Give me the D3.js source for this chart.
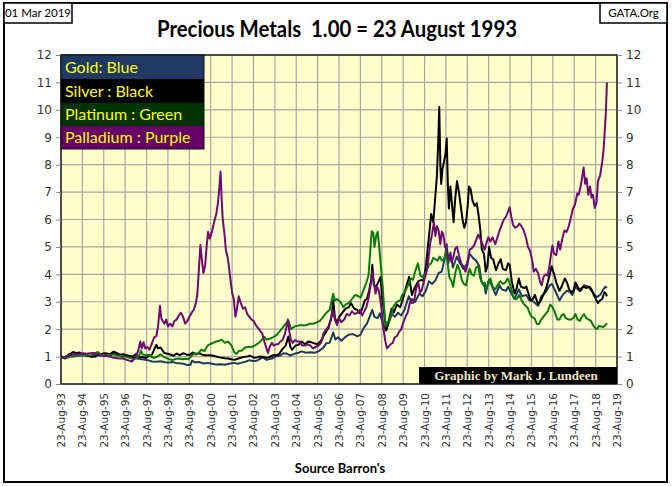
<!DOCTYPE html>
<html>
<head>
<meta charset="utf-8">
<script src="https://cdn.jsdelivr.net/npm/d3@7"></script>
<style>
  body { margin: 0; background: #fff; }
  svg { display: block; }
</style>
</head>
<body>
<div id="chart"></div>
<script>
// values = price / price on 23 Aug 1993, dates as decimal years
const gold = [[1993.64,1.00],[1993.8,0.98],[1993.95,1.03],[1994.1,1.02],[1994.3,1.01],[1994.5,1.04],[1994.7,1.05],[1994.9,1.02],[1995.1,1.01],[1995.3,1.05],[1995.5,1.04],[1995.7,1.03],[1995.9,1.04],[1996.08,1.11],[1996.3,1.06],[1996.5,1.03],[1996.7,1.04],[1996.9,0.99],[1997.1,0.94],[1997.3,0.92],[1997.5,0.89],[1997.7,0.87],[1997.9,0.82],[1998.1,0.81],[1998.3,0.83],[1998.5,0.79],[1998.7,0.78],[1998.85,0.80],[1999.0,0.77],[1999.2,0.76],[1999.4,0.73],[1999.55,0.69],[1999.7,0.70],[1999.77,0.85],[1999.9,0.79],[2000.1,0.80],[2000.3,0.75],[2000.5,0.77],[2000.7,0.74],[2000.9,0.71],[2001.1,0.72],[2001.3,0.70],[2001.5,0.74],[2001.7,0.77],[2001.9,0.74],[2002.1,0.78],[2002.3,0.82],[2002.45,0.87],[2002.6,0.84],[2002.8,0.85],[2002.95,0.92],[2003.1,0.97],[2003.25,0.88],[2003.5,0.93],[2003.7,1.01],[2003.9,1.04],[2004.05,1.12],[2004.2,1.11],[2004.35,1.04],[2004.55,1.10],[2004.75,1.14],[2004.9,1.19],[2005.1,1.14],[2005.3,1.16],[2005.5,1.14],[2005.7,1.20],[2005.9,1.32],[2006.05,1.49],[2006.2,1.50],[2006.37,1.88],[2006.47,1.62],[2006.6,1.70],[2006.75,1.58],[2006.95,1.72],[2007.1,1.80],[2007.3,1.82],[2007.5,1.74],[2007.65,1.80],[2007.8,2.05],[2007.95,2.20],[2008.1,2.50],[2008.2,2.70],[2008.3,2.45],[2008.45,2.40],[2008.55,2.58],[2008.7,2.18],[2008.82,1.98],[2008.95,2.20],[2009.1,2.55],[2009.25,2.45],[2009.4,2.60],[2009.55,2.50],[2009.7,2.70],[2009.9,3.20],[2010.05,2.95],[2010.2,3.00],[2010.4,3.30],[2010.55,3.20],[2010.7,3.40],[2010.85,3.75],[2011.0,3.65],[2011.15,3.78],[2011.3,4.05],[2011.45,4.10],[2011.6,4.65],[2011.68,5.10],[2011.75,4.40],[2011.85,4.80],[2011.97,4.25],[2012.15,4.65],[2012.3,4.40],[2012.45,4.20],[2012.6,4.35],[2012.75,4.75],[2012.9,4.60],[2013.05,4.50],[2013.2,4.30],[2013.3,3.75],[2013.45,3.55],[2013.5,3.30],[2013.65,3.80],[2013.8,3.55],[2013.97,3.25],[2014.15,3.60],[2014.25,3.45],[2014.45,3.40],[2014.55,3.55],[2014.7,3.30],[2014.85,3.10],[2015.05,3.45],[2015.2,3.20],[2015.4,3.25],[2015.55,3.05],[2015.7,3.03],[2015.95,2.85],[2016.1,3.20],[2016.3,3.35],[2016.5,3.60],[2016.6,3.65],[2016.75,3.40],[2016.95,3.05],[2017.1,3.25],[2017.3,3.40],[2017.45,3.35],[2017.55,3.25],[2017.7,3.55],[2017.85,3.42],[2017.95,3.40],[2018.1,3.60],[2018.3,3.55],[2018.45,3.40],[2018.6,3.25],[2018.7,3.17],[2018.85,3.25],[2019.0,3.45],[2019.1,3.55],[2019.17,3.50]];

const silver = [[1993.64,1.00],[1993.75,0.95],[1993.85,0.93],[1994.0,1.08],[1994.1,1.10],[1994.2,1.17],[1994.35,1.12],[1994.5,1.15],[1994.65,1.08],[1994.8,1.05],[1994.95,1.02],[1995.1,0.99],[1995.25,1.00],[1995.35,1.15],[1995.5,1.08],[1995.65,1.12],[1995.8,1.11],[1995.95,1.09],[1996.1,1.18],[1996.25,1.13],[1996.4,1.07],[1996.55,1.09],[1996.7,1.05],[1996.85,1.02],[1997.0,1.00],[1997.15,1.09],[1997.3,0.98],[1997.45,0.99],[1997.6,0.95],[1997.75,1.02],[1997.9,1.08],[1998.0,1.26],[1998.1,1.43],[1998.18,1.30],[1998.3,1.33],[1998.45,1.15],[1998.6,1.10],[1998.75,1.08],[1998.9,1.03],[1999.05,1.11],[1999.2,1.05],[1999.35,1.12],[1999.5,1.08],[1999.65,1.06],[1999.8,1.15],[1999.95,1.08],[2000.1,1.12],[2000.25,1.07],[2000.4,1.05],[2000.55,1.05],[2000.7,1.04],[2000.85,1.01],[2001.0,0.98],[2001.15,0.96],[2001.3,0.94],[2001.45,0.93],[2001.6,0.90],[2001.75,0.88],[2001.9,0.92],[2002.05,0.96],[2002.2,0.99],[2002.35,1.00],[2002.5,1.03],[2002.65,0.96],[2002.8,0.97],[2002.95,1.00],[2003.1,0.99],[2003.25,0.96],[2003.4,0.98],[2003.55,1.05],[2003.7,1.05],[2003.85,1.10],[2004.0,1.28],[2004.15,1.40],[2004.27,1.73],[2004.37,1.35],[2004.45,1.25],[2004.6,1.40],[2004.75,1.43],[2004.9,1.55],[2005.05,1.45],[2005.2,1.55],[2005.35,1.52],[2005.5,1.48],[2005.65,1.45],[2005.8,1.58],[2005.95,1.80],[2006.05,1.92],[2006.15,2.05],[2006.3,2.50],[2006.37,3.05],[2006.45,2.40],[2006.55,2.25],[2006.65,2.45],[2006.8,2.60],[2006.95,2.75],[2007.1,2.80],[2007.2,2.95],[2007.35,2.75],[2007.5,2.70],[2007.6,2.58],[2007.7,2.70],[2007.85,3.05],[2007.95,3.10],[2008.05,3.40],[2008.15,3.80],[2008.2,4.35],[2008.27,3.60],[2008.38,3.55],[2008.5,3.75],[2008.58,3.90],[2008.65,3.20],[2008.75,2.60],[2008.85,1.95],[2008.95,2.25],[2009.1,2.75],[2009.2,2.60],[2009.35,2.90],[2009.5,2.80],[2009.65,3.15],[2009.8,3.60],[2009.92,3.90],[2010.05,3.25],[2010.2,3.55],[2010.35,3.75],[2010.5,3.80],[2010.6,3.75],[2010.72,4.40],[2010.85,5.40],[2010.95,6.20],[2011.05,5.90],[2011.15,6.90],[2011.22,7.60],[2011.28,8.80],[2011.33,10.10],[2011.38,8.00],[2011.42,7.30],[2011.48,7.85],[2011.55,8.10],[2011.62,8.40],[2011.68,8.95],[2011.73,7.30],[2011.78,6.40],[2011.85,7.20],[2011.92,6.60],[2012.0,5.90],[2012.08,6.80],[2012.16,7.40],[2012.25,7.00],[2012.35,6.40],[2012.42,6.00],[2012.5,5.70],[2012.58,5.90],[2012.66,6.50],[2012.72,7.20],[2012.8,7.10],[2012.88,6.70],[2012.98,6.50],[2013.08,6.60],[2013.16,6.20],[2013.25,5.60],[2013.32,4.90],[2013.42,4.75],[2013.5,4.10],[2013.58,4.30],[2013.66,5.00],[2013.75,4.60],[2013.85,4.55],[2013.98,4.15],[2014.1,4.40],[2014.2,4.55],[2014.3,4.20],[2014.45,4.15],[2014.55,4.40],[2014.62,4.35],[2014.72,3.75],[2014.85,3.30],[2014.95,3.50],[2015.05,3.85],[2015.15,3.55],[2015.3,3.50],[2015.4,3.55],[2015.5,3.30],[2015.6,3.05],[2015.7,3.10],[2015.8,3.25],[2015.95,2.90],[2016.05,3.00],[2016.2,3.25],[2016.35,3.55],[2016.5,4.00],[2016.58,4.30],[2016.7,4.00],[2016.8,3.70],[2016.95,3.40],[2017.05,3.55],[2017.2,3.85],[2017.3,3.70],[2017.4,3.45],[2017.52,3.35],[2017.6,3.40],[2017.7,3.70],[2017.8,3.55],[2017.9,3.40],[2017.98,3.50],[2018.08,3.55],[2018.2,3.50],[2018.35,3.55],[2018.45,3.45],[2018.55,3.25],[2018.65,3.10],[2018.75,2.95],[2018.85,3.05],[2018.95,3.10],[2019.05,3.35],[2019.12,3.30],[2019.17,3.20]];

const platinum = [[1993.64,1.00],[1993.75,0.97],[1993.9,0.95],[1994.05,0.99],[1994.2,1.00],[1994.35,1.02],[1994.5,1.04],[1994.65,1.05],[1994.8,1.07],[1994.95,1.04],[1995.1,1.05],[1995.25,1.13],[1995.35,1.16],[1995.5,1.08],[1995.65,1.07],[1995.8,1.05],[1995.95,1.05],[1996.1,1.08],[1996.25,1.04],[1996.4,1.03],[1996.55,1.00],[1996.7,0.98],[1996.85,0.96],[1997.0,0.92],[1997.15,0.95],[1997.3,1.05],[1997.38,1.22],[1997.45,1.08],[1997.6,1.05],[1997.75,1.07],[1997.9,0.98],[1998.0,0.95],[1998.15,1.00],[1998.3,1.08],[1998.4,1.02],[1998.55,0.95],[1998.7,0.90],[1998.85,0.87],[1999.0,0.91],[1999.15,0.93],[1999.3,0.90],[1999.45,0.92],[1999.6,0.90],[1999.75,1.03],[1999.9,1.12],[2000.05,1.10],[2000.2,1.25],[2000.35,1.20],[2000.5,1.40],[2000.6,1.45],[2000.75,1.50],[2000.9,1.55],[2001.05,1.58],[2001.15,1.62],[2001.3,1.50],[2001.45,1.55],[2001.6,1.42],[2001.75,1.15],[2001.85,1.10],[2001.95,1.20],[2002.1,1.22],[2002.25,1.33],[2002.4,1.35],[2002.55,1.35],[2002.7,1.40],[2002.85,1.48],[2003.0,1.58],[2003.15,1.72],[2003.25,1.62],[2003.4,1.65],[2003.55,1.70],[2003.7,1.77],[2003.85,1.90],[2004.0,2.05],[2004.15,2.20],[2004.28,2.30],[2004.4,2.00],[2004.55,2.10],[2004.7,2.12],[2004.85,2.15],[2005.0,2.13],[2005.15,2.16],[2005.3,2.20],[2005.45,2.20],[2005.6,2.25],[2005.75,2.30],[2005.9,2.45],[2006.05,2.60],[2006.2,2.70],[2006.37,3.29],[2006.45,3.05],[2006.55,3.10],[2006.7,3.00],[2006.85,2.80],[2006.95,2.90],[2007.1,2.95],[2007.25,3.10],[2007.4,3.25],[2007.55,3.20],[2007.65,3.15],[2007.8,3.45],[2007.92,3.70],[2008.02,3.95],[2008.1,4.80],[2008.17,5.57],[2008.25,5.50],[2008.3,5.00],[2008.38,5.40],[2008.45,5.55],[2008.52,5.00],[2008.6,4.30],[2008.68,3.60],[2008.75,2.80],[2008.82,2.10],[2008.9,2.25],[2009.0,2.30],[2009.1,2.60],[2009.2,2.85],[2009.35,3.00],[2009.5,3.05],[2009.6,3.25],[2009.75,3.40],[2009.9,3.65],[2010.0,3.85],[2010.1,3.80],[2010.2,4.10],[2010.33,4.40],[2010.45,3.95],[2010.55,3.90],[2010.7,4.05],[2010.85,4.35],[2010.95,4.40],[2011.05,4.60],[2011.15,4.55],[2011.25,4.50],[2011.35,4.65],[2011.45,4.50],[2011.55,4.55],[2011.65,4.80],[2011.72,4.40],[2011.8,3.90],[2011.9,3.75],[2011.98,3.55],[2012.08,4.05],[2012.18,4.35],[2012.28,4.15],[2012.38,3.80],[2012.48,3.65],[2012.58,3.60],[2012.68,4.00],[2012.75,4.20],[2012.85,4.00],[2012.95,3.95],[2013.05,4.25],[2013.15,4.30],[2013.25,3.85],[2013.35,3.65],[2013.45,3.70],[2013.52,3.45],[2013.62,3.70],[2013.72,3.85],[2013.82,3.55],[2013.95,3.45],[2014.05,3.60],[2014.18,3.75],[2014.3,3.65],[2014.42,3.70],[2014.52,3.85],[2014.62,3.70],[2014.75,3.30],[2014.85,3.10],[2014.95,3.10],[2015.08,3.25],[2015.18,3.05],[2015.3,2.90],[2015.45,2.80],[2015.55,2.60],[2015.65,2.45],[2015.78,2.40],[2015.9,2.18],[2016.0,2.20],[2016.1,2.35],[2016.25,2.50],[2016.4,2.65],[2016.52,2.90],[2016.62,2.80],[2016.72,2.65],[2016.85,2.35],[2016.95,2.35],[2017.05,2.50],[2017.15,2.55],[2017.25,2.40],[2017.38,2.35],[2017.5,2.35],[2017.6,2.42],[2017.7,2.55],[2017.8,2.35],[2017.9,2.30],[2018.0,2.45],[2018.1,2.55],[2018.2,2.40],[2018.32,2.35],[2018.42,2.30],[2018.52,2.15],[2018.62,2.05],[2018.7,2.00],[2018.8,2.12],[2018.9,2.10],[2019.0,2.08],[2019.1,2.15],[2019.17,2.22]];

const palladium = [[1993.64,1.00],[1993.8,0.98],[1993.95,1.02],[1994.1,1.05],[1994.25,1.10],[1994.4,1.08],[1994.55,1.10],[1994.7,1.12],[1994.85,1.10],[1995.0,1.12],[1995.15,1.13],[1995.3,1.10],[1995.45,1.05],[1995.6,1.05],[1995.75,1.03],[1995.9,1.00],[1996.05,0.97],[1996.2,0.95],[1996.35,0.93],[1996.5,0.94],[1996.65,0.90],[1996.8,0.86],[1996.95,0.82],[1997.05,0.90],[1997.15,1.05],[1997.25,1.20],[1997.35,1.55],[1997.42,1.30],[1997.5,1.52],[1997.58,1.30],[1997.68,1.35],[1997.78,1.25],[1997.9,1.50],[1998.0,1.70],[1998.1,1.75],[1998.18,2.10],[1998.27,2.85],[1998.33,2.40],[1998.4,2.30],[1998.48,2.20],[1998.56,2.35],[1998.65,2.10],[1998.75,2.20],[1998.85,2.10],[1998.95,2.30],[1999.05,2.35],[1999.15,2.50],[1999.25,2.60],[1999.35,2.45],[1999.45,2.20],[1999.55,2.30],[1999.65,2.45],[1999.75,2.60],[1999.85,2.70],[1999.95,2.95],[2000.02,3.30],[2000.1,4.30],[2000.16,5.07],[2000.22,4.60],[2000.3,4.05],[2000.38,4.30],[2000.45,5.00],[2000.52,5.55],[2000.6,5.30],[2000.7,5.55],[2000.8,5.90],[2000.9,6.20],[2000.98,6.60],[2001.05,7.20],[2001.1,7.75],[2001.15,6.80],[2001.2,6.05],[2001.28,5.50],[2001.35,4.90],[2001.45,4.55],[2001.55,3.90],[2001.65,3.30],[2001.72,3.10],[2001.8,2.45],[2001.88,2.80],[2001.95,3.20],[2002.05,2.95],[2002.15,2.75],[2002.25,2.80],[2002.35,2.55],[2002.45,2.45],[2002.55,2.35],[2002.65,2.30],[2002.75,2.15],[2002.85,2.05],[2002.95,1.95],[2003.05,1.85],[2003.15,1.55],[2003.25,1.30],[2003.32,1.13],[2003.4,1.35],[2003.5,1.50],[2003.6,1.40],[2003.7,1.45],[2003.8,1.45],[2003.9,1.55],[2004.0,1.60],[2004.1,1.80],[2004.18,2.05],[2004.25,2.35],[2004.32,1.90],[2004.4,1.60],[2004.48,1.50],[2004.58,1.60],[2004.68,1.55],[2004.8,1.55],[2004.92,1.40],[2005.05,1.40],[2005.18,1.45],[2005.3,1.40],[2005.42,1.30],[2005.55,1.35],[2005.68,1.40],[2005.8,1.50],[2005.92,1.85],[2006.05,2.00],[2006.15,2.10],[2006.25,2.30],[2006.35,2.70],[2006.45,2.35],[2006.55,2.15],[2006.65,2.40],[2006.75,2.25],[2006.88,2.35],[2007.0,2.55],[2007.12,2.50],[2007.25,2.65],[2007.38,2.55],[2007.5,2.60],[2007.62,2.70],[2007.72,2.50],[2007.82,2.65],[2007.92,2.80],[2008.0,3.05],[2008.08,3.40],[2008.15,3.80],[2008.2,4.10],[2008.27,3.70],[2008.35,3.30],[2008.42,3.55],[2008.5,3.40],[2008.57,3.10],[2008.65,2.60],[2008.72,2.00],[2008.8,1.60],[2008.88,1.30],[2008.95,1.35],[2009.05,1.45],[2009.15,1.50],[2009.25,1.70],[2009.35,1.75],[2009.45,1.90],[2009.55,2.00],[2009.65,2.25],[2009.75,2.45],[2009.85,2.60],[2009.95,2.95],[2010.05,3.10],[2010.15,3.00],[2010.25,3.50],[2010.35,3.70],[2010.42,3.35],[2010.5,3.40],[2010.6,3.70],[2010.7,4.00],[2010.8,4.40],[2010.9,5.10],[2011.0,5.50],[2011.08,5.90],[2011.15,5.40],[2011.22,5.75],[2011.3,5.60],[2011.38,5.10],[2011.45,5.55],[2011.52,5.45],[2011.6,5.00],[2011.68,4.90],[2011.75,4.55],[2011.82,4.70],[2011.9,4.45],[2011.98,4.60],[2012.08,4.95],[2012.16,5.00],[2012.25,4.70],[2012.35,4.40],[2012.45,4.30],[2012.55,4.10],[2012.65,4.35],[2012.75,4.90],[2012.85,4.95],[2012.95,5.05],[2013.05,5.25],[2013.15,5.45],[2013.25,5.30],[2013.35,5.10],[2013.45,4.90],[2013.52,5.10],[2013.62,5.35],[2013.72,5.20],[2013.82,5.35],[2013.95,5.10],[2014.05,5.35],[2014.15,5.60],[2014.25,5.80],[2014.35,6.00],[2014.45,6.10],[2014.55,6.30],[2014.62,6.45],[2014.7,6.10],[2014.78,5.80],[2014.88,5.70],[2014.98,5.75],[2015.08,5.85],[2015.18,5.75],[2015.28,5.60],[2015.38,5.35],[2015.48,5.00],[2015.58,4.85],[2015.68,4.50],[2015.75,4.10],[2015.85,4.20],[2015.95,4.05],[2016.05,3.70],[2016.12,3.60],[2016.2,3.90],[2016.3,4.00],[2016.4,3.95],[2016.48,4.30],[2016.55,4.70],[2016.62,5.05],[2016.7,4.75],[2016.8,4.70],[2016.9,5.20],[2016.98,4.90],[2017.08,5.30],[2017.18,5.60],[2017.28,5.55],[2017.38,5.75],[2017.48,6.05],[2017.58,6.40],[2017.68,6.55],[2017.78,6.95],[2017.85,6.90],[2017.95,7.25],[2018.03,7.65],[2018.08,7.90],[2018.15,7.30],[2018.22,7.50],[2018.3,6.90],[2018.38,7.20],[2018.45,6.80],[2018.52,6.90],[2018.6,6.42],[2018.68,6.60],[2018.75,7.40],[2018.85,7.60],[2018.95,8.10],[2019.02,8.60],[2019.08,9.40],[2019.12,9.90],[2019.17,11.00]];

const series = [
  { name: 'Gold: Blue', values: gold, color: '#1f3864', box: '#1f3864' },
  { name: 'Silver : Black', values: silver, color: '#000000', box: '#000000' },
  { name: 'Platinum : Green', values: platinum, color: '#0b7a0b', box: '#003300' },
  { name: 'Palladium : Purple', values: palladium, color: '#6e0a72', box: '#660066' },
];

const yTicks = d3.range(0, 13);
const xTickDates = d3.range(1993, 2020).map(y => new Date(y, 7, 23));

const width = 672, height = 486;
const plot = { left: 61, right: 617, top: 55, bottom: 384 };

// decimal year -> Date
function toDate(y) {
  const yr = Math.floor(y);
  const start = new Date(yr, 0, 1), end = new Date(yr + 1, 0, 1);
  return new Date(+start + (y - yr) * (end - start));
}

const svg = d3.select('#chart').append('svg')
  .attr('width', width).attr('height', height);

const xScale = d3.scaleTime()
  .domain([xTickDates[0], xTickDates[xTickDates.length - 1]])
  .range([plot.left, plot.right]);
const yScale = d3.scaleLinear().domain([0, 12]).range([plot.bottom, plot.top]);

// outer frame
svg.append('rect').attr('x', 4).attr('y', 3).attr('width', 663).attr('height', 479)
  .attr('fill', '#fff').attr('stroke', '#000').attr('stroke-width', 2);

// plot background
svg.append('rect')
  .attr('x', plot.left).attr('y', plot.top)
  .attr('width', plot.right - plot.left).attr('height', plot.bottom - plot.top)
  .attr('fill', '#ffffcc');

// grid
svg.append('g').selectAll('line').data(yTicks.slice(1, -1)).join('line')
  .attr('x1', plot.left).attr('x2', plot.right)
  .attr('y1', d => yScale(d)).attr('y2', d => yScale(d))
  .attr('stroke', '#a6a6a0').attr('stroke-width', 1.2);
svg.append('g').selectAll('line').data(xTickDates.slice(1, -1)).join('line')
  .attr('x1', d => xScale(d)).attr('x2', d => xScale(d))
  .attr('y1', plot.top).attr('y2', plot.bottom)
  .attr('stroke', '#a6a6a0').attr('stroke-width', 1.2);

// lines
svg.append('clipPath').attr('id', 'clip').append('rect')
  .attr('x', plot.left).attr('y', plot.top)
  .attr('width', plot.right - plot.left).attr('height', plot.bottom - plot.top);

const line = d3.line().x(d => xScale(toDate(d[0]))).y(d => yScale(d[1]));
svg.append('g').attr('clip-path', 'url(#clip)')
  .selectAll('path').data(series).join('path')
  .attr('d', d => line(d.values))
  .attr('fill', 'none')
  .attr('stroke', d => d.color)
  .attr('stroke-width', 2)
  .attr('stroke-linejoin', 'round');

// plot border
svg.append('rect')
  .attr('x', plot.left).attr('y', plot.top)
  .attr('width', plot.right - plot.left).attr('height', plot.bottom - plot.top)
  .attr('fill', 'none').attr('stroke', '#111').attr('stroke-width', 1.5);

// y axes
const yLeft = d3.axisLeft(yScale).tickValues(yTicks).tickSize(5).tickPadding(4);
const yRight = d3.axisRight(yScale).tickValues(yTicks).tickSize(5).tickPadding(4);
function styleAxis(g) {
  g.select('.domain').remove();
  g.selectAll('.tick line').attr('stroke', '#888');
  g.selectAll('.tick text').attr('fill', '#333')
    .style('font-family', '"DejaVu Sans", Verdana, sans-serif').style('font-size', '12px');
}
svg.append('g').attr('transform', `translate(${plot.left},0)`).call(yLeft).call(styleAxis);
svg.append('g').attr('transform', `translate(${plot.right},0)`).call(yRight).call(styleAxis);

// x axis labels
const fmt = d3.timeFormat('%d-%b-%y');
svg.append('g').selectAll('text').data(xTickDates).join('text')
  .attr('transform', d => `translate(${xScale(d) + 4},393) rotate(-90)`)
  .attr('text-anchor', 'end')
  .attr('fill', '#333')
  .style('font-family', '"DejaVu Sans", Verdana, sans-serif')
  .style('font-size', '10.5px')
  .text(d => fmt(d));

// legend boxes
const legH = [24, 24, 23, 23];
let ly = plot.top;
series.forEach((s, i) => {
  svg.append('rect').attr('x', plot.left).attr('y', ly).attr('width', 143).attr('height', legH[i])
    .attr('fill', s.box);
  svg.append('text').attr('x', plot.left + 4).attr('y', ly + legH[i] / 2 + 5.5)
    .attr('fill', '#ffff00')
    .style('font-family', 'Lato, "Open Sans", sans-serif').style('font-size', '16px')
    .text(s.name);
  ly += legH[i];
});
svg.append('rect').attr('x', plot.left).attr('y', plot.top).attr('width', 143).attr('height', ly - plot.top)
  .attr('fill', 'none').attr('stroke', '#111').attr('stroke-width', 1);

// credit box
svg.append('rect').attr('x', 419).attr('y', 367).attr('width', plot.right - 419).attr('height', 17)
  .attr('fill', '#000');
svg.append('text').attr('x', 516).attr('y', 380).attr('text-anchor', 'middle')
  .attr('fill', '#f2e6c4')
  .style('font-family', '"Liberation Serif", serif').style('font-weight', 'bold').style('font-size', '13px')
  .text('Graphic by Mark J. Lundeen');

// title and corner boxes
svg.append('text').attr('x', 337).attr('y', 37).attr('text-anchor', 'middle')
  .attr('xml:space', 'preserve')
  .attr('textLength', 360).attr('lengthAdjust', 'spacingAndGlyphs')
  .style('font-family', 'Lato, "Open Sans", sans-serif').style('font-weight', 'bold').style('font-size', '23px')
  .text('Precious Metals  1.00 = 23 August 1993');

svg.append('rect').attr('x', 4).attr('y', 3).attr('width', 68).attr('height', 20)
  .attr('fill', '#fff').attr('stroke', '#000').attr('stroke-width', 1.5);
svg.append('text').attr('x', 38).attr('y', 17).attr('text-anchor', 'middle')
  .style('font-family', 'Lato, sans-serif').style('font-size', '11.5px')
  .text('01 Mar 2019');
svg.append('rect').attr('x', 600).attr('y', 3).attr('width', 67).attr('height', 20)
  .attr('fill', '#fff').attr('stroke', '#000').attr('stroke-width', 1.5);
svg.append('text').attr('x', 633.5).attr('y', 17).attr('text-anchor', 'middle')
  .style('font-family', 'Lato, sans-serif').style('font-size', '11.5px')
  .text('GATA.Org');

// source
svg.append('text').attr('x', 340).attr('y', 473).attr('text-anchor', 'middle')
  .style('font-family', 'Lato, sans-serif').style('font-weight', 'bold').style('font-size', '13px')
  .text("Source Barron's");
</script>
</body>
</html>
